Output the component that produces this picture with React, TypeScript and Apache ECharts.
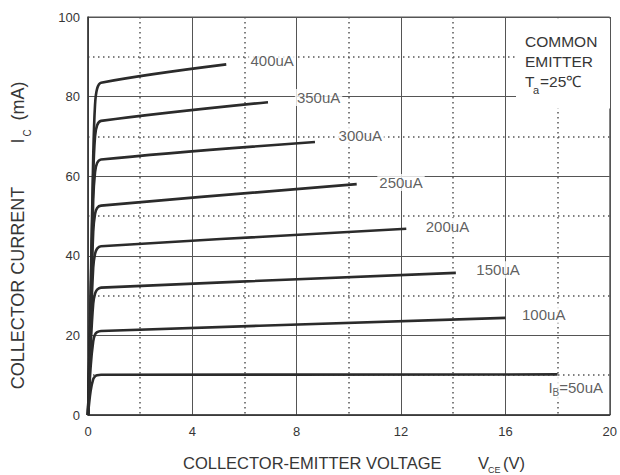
import React, { useEffect, useRef } from "react";
import * as echarts from "echarts";

// Base current curves: [VCE (V), IC (mA)]
const curve400 = [[0, 0], [0.1, 30], [0.2, 65], [0.27, 78], [0.35, 82], [0.5, 83.5], [5.3, 88.1]];
const curve350 = [[0, 0], [0.1, 28], [0.2, 60], [0.27, 70], [0.35, 72.8], [0.5, 73.9], [6.9, 78.6]];
const curve300 = [[0, 0], [0.1, 26], [0.2, 54], [0.27, 61], [0.35, 63.3], [0.5, 64.2], [8.7, 68.6]];
const curve250 = [[0, 0], [0.1, 24], [0.2, 46], [0.27, 50.5], [0.35, 52], [0.5, 52.6], [10.3, 58.0]];
const curve200 = [[0, 0], [0.1, 21], [0.2, 37], [0.27, 40.5], [0.35, 41.8], [0.5, 42.4], [12.2, 46.8]];
const curve150 = [[0, 0], [0.1, 17], [0.2, 28], [0.27, 30.5], [0.35, 31.5], [0.5, 32], [14.1, 35.7]];
const curve100 = [[0, 0], [0.1, 12], [0.2, 18.5], [0.27, 20.2], [0.35, 20.8], [0.5, 21.1], [16, 24.4]];
const curve50 = [[0, 0], [0.1, 6], [0.2, 9], [0.27, 9.7], [0.35, 10], [0.5, 10.1], [18, 10.2]];

const curves = [curve400, curve350, curve300, curve250, curve200, curve150, curve100, curve50];

// Curve labels and their anchor points (data coordinates)
const labelNames = ["400uA", "350uA", "300uA", "250uA", "200uA", "150uA", "100uA", "I{sub|B}=50uA"];
const labelV = [6.15, 7.93, 9.53, 11.09, 12.87, 14.81, 16.56, 17.57];
const labelI = [89.0, 79.8, 70.3, 58.4, 47.4, 36.5, 25.2, 6.8];

// Axis settings
const xMin = 0, xMax = 20, xStep = 4;
const yMin = 0, yMax = 100, yStep = 20;

const FONT = "'Liberation Sans', Arial, sans-serif";
const TXT = "#363636";

export default function App() {
  const ref = useRef<HTMLDivElement>(null);

  useEffect(() => {
    if (!ref.current) return;
    const chart = echarts.init(ref.current, undefined, { renderer: "svg" });

    const lineSeries = curves.map((c, i) => ({
      type: "line",
      name: labelNames[i],
      data: c,
      showSymbol: false,
      symbol: "none",
      smooth: 0.35,
      lineStyle: { color: "#2b2b2b", width: 2.6 },
      z: 3,
    }));

    const labelSeries = {
      type: "scatter",
      symbol: "circle",
      symbolSize: 0,
      z: 6,
      silent: true,
      data: labelNames.map((n, i) => ({ name: n, value: [labelV[i], labelI[i]] })),
      label: {
        show: true,
        position: "right",
        distance: 0,
        formatter: (p: any) => p.name,
        color: TXT,
        fontFamily: FONT,
        fontSize: 15,
        backgroundColor: "#ffffff",
        padding: [1, 2, 1, 2],
        rich: {
          sub: { fontSize: 10, color: TXT, fontFamily: FONT, verticalAlign: "bottom", padding: [10, 0, 0, 0] },
        },
      },
    };

    const option: any = {
      animation: false,
      backgroundColor: "#ffffff",
      grid: {
        left: 88,
        right: 8,
        top: 17,
        bottom: 60,
        show: true,
        borderColor: "#555",
        borderWidth: 1,
        backgroundColor: "transparent",
      },
      xAxis: {
        type: "value",
        min: xMin,
        max: xMax,
        interval: xStep,
        axisLine: { show: true, onZero: false, lineStyle: { color: "#333", width: 1.5 } },
        axisTick: { show: false },
        axisLabel: { color: TXT, fontFamily: FONT, fontSize: 13, margin: 10 },
        splitLine: { show: true, lineStyle: { color: "#555", width: 1 } },
        minorTick: { show: false, splitNumber: 2 },
        minorSplitLine: { show: true, lineStyle: { color: "#555", width: 1.5, type: [1.5, 3.5] } },
      },
      yAxis: {
        type: "value",
        min: yMin,
        max: yMax,
        interval: yStep,
        axisLine: { show: true, onZero: false, lineStyle: { color: "#333", width: 1.5 } },
        axisTick: { show: false },
        axisLabel: { color: TXT, fontFamily: FONT, fontSize: 13, margin: 8 },
        splitLine: { show: true, lineStyle: { color: "#555", width: 1 } },
        minorTick: { show: false, splitNumber: 2 },
        minorSplitLine: { show: true, lineStyle: { color: "#555", width: 1.5, type: [1.5, 3.5] } },
      },
      series: [...lineSeries, labelSeries],
      graphic: [
        { type: "rect", z: 20, shape: { x: 516, y: 18.5, width: 94, height: 90 }, style: { fill: "#ffffff" } },
        { type: "text", z: 21, x: 525, y: 41, style: { text: "COMMON", fill: TXT, font: `15.5px ${FONT}`, textVerticalAlign: "middle" } },
        { type: "text", z: 21, x: 525, y: 61, style: { text: "EMITTER", fill: TXT, font: `15.5px ${FONT}`, textVerticalAlign: "middle" } },
        { type: "text", z: 21, x: 525, y: 81, style: { text: "T", fill: TXT, font: `15.5px ${FONT}`, textVerticalAlign: "middle" } },
        { type: "text", z: 21, x: 533, y: 90, style: { text: "a", fill: TXT, font: `11px ${FONT}`, textVerticalAlign: "middle" } },
        { type: "text", z: 21, x: 540, y: 81, style: { text: "=25℃", fill: TXT, font: `15.5px ${FONT}`, textVerticalAlign: "middle" } },
        // X axis title
        { type: "text", z: 21, x: 183, y: 463, style: { text: "COLLECTOR-EMITTER VOLTAGE", fill: TXT, font: `16.5px ${FONT}`, textVerticalAlign: "middle" } },
        { type: "text", z: 21, x: 478, y: 463, style: { text: "V", fill: TXT, font: `16.5px ${FONT}`, textVerticalAlign: "middle" } },
        { type: "text", z: 21, x: 488, y: 470, style: { text: "CE", fill: TXT, font: `9px ${FONT}`, textVerticalAlign: "middle" } },
        { type: "text", z: 21, x: 503, y: 463, style: { text: "(V)", fill: TXT, font: `16.5px ${FONT}`, textVerticalAlign: "middle" } },
        // Y axis title (rotated)
        { type: "text", z: 21, x: 18, y: 288, rotation: Math.PI / 2, style: { text: "COLLECTOR CURRENT", fill: TXT, font: `18px ${FONT}`, textAlign: "center", textVerticalAlign: "middle" } },
        { type: "text", z: 21, x: 18, y: 141, rotation: Math.PI / 2, style: { text: "I", fill: TXT, font: `18px ${FONT}`, textAlign: "center", textVerticalAlign: "middle" } },
        { type: "text", z: 21, x: 27, y: 133, rotation: Math.PI / 2, style: { text: "C", fill: TXT, font: `10px ${FONT}`, textAlign: "center", textVerticalAlign: "middle" } },
        { type: "text", z: 21, x: 18, y: 101, rotation: Math.PI / 2, style: { text: "(mA)", fill: TXT, font: `18px ${FONT}`, textAlign: "center", textVerticalAlign: "middle" } },
      ],
    };

    chart.setOption(option);
    return () => chart.dispose();
  }, []);

  return (
    <div
      ref={ref}
      style={{ position: "fixed", left: 0, top: 0, width: 620, height: 475, background: "#fff" }}
    />
  );
}
